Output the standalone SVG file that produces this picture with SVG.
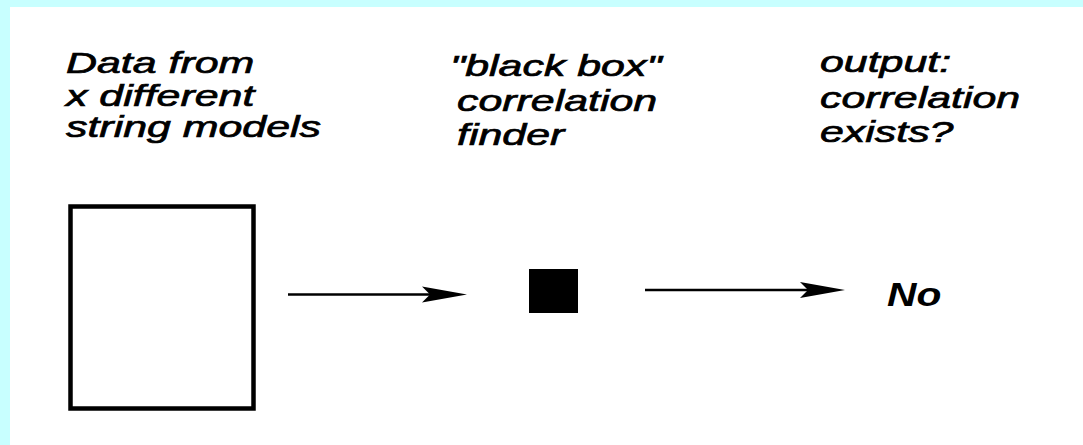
<svg xmlns="http://www.w3.org/2000/svg" width="1083" height="445" viewBox="0 0 1083 445">
  <style>
    .lbl { font-family: "Liberation Sans", Arial, sans-serif; font-style: italic; font-size: 30px; fill: #000; stroke: #000; stroke-width: 0.7; }
    .res { font-family: "Liberation Sans", Arial, sans-serif; font-style: italic; font-weight: bold; font-size: 34px; fill: #000; }
    .conn { stroke: #000; stroke-width: 2.5; fill: none; }
  </style>
  <defs>
    <marker id="head" viewBox="-46 -9 47 18" refX="-25" refY="0" markerWidth="47" markerHeight="18" markerUnits="userSpaceOnUse" orient="auto">
      <path d="M-45,-8 L0,0 L-45,8 L-37,0 Z" fill="#000"/>
    </marker>
  </defs>
  <rect x="0" y="0" width="1083" height="445" fill="#c8ffff"/>
  <rect x="10" y="7" width="1073" height="438" fill="#ffffff"/>

  <g id="label-data">
    <text class="lbl" transform="translate(66,73) scale(1.43,1)">Data from</text>
    <text class="lbl" transform="translate(66,106) scale(1.43,1)">x different</text>
    <text class="lbl" transform="translate(66,137) scale(1.43,1)">string models</text>
  </g>
  <g id="label-blackbox">
    <text class="lbl" transform="translate(450,76) scale(1.43,1)">"black box"</text>
    <text class="lbl" transform="translate(457,111) scale(1.43,1)">correlation</text>
    <text class="lbl" transform="translate(457,145) scale(1.43,1)">finder</text>
  </g>
  <g id="label-output">
    <text class="lbl" transform="translate(820,72) scale(1.43,1)">output:</text>
    <text class="lbl" transform="translate(820,108) scale(1.43,1)">correlation</text>
    <text class="lbl" transform="translate(820,142) scale(1.43,1)">exists?</text>
  </g>

  <g id="data-box">
    <rect x="70.5" y="206.5" width="183" height="202" fill="#fff" stroke="#000" stroke-width="4.5"/>
  </g>
  <g id="black-box">
    <rect x="529" y="269" width="49" height="44" fill="#000"/>
  </g>
  <g id="result-no">
    <text class="res" transform="translate(887,306) scale(1.2,1)">No</text>
  </g>

  <g id="connectors">
    <line class="conn" x1="288" y1="294.5" x2="442" y2="294.5" marker-end="url(#head)"/>
    <line class="conn" x1="645" y1="290" x2="820" y2="290" marker-end="url(#head)"/>
  </g>
</svg>
